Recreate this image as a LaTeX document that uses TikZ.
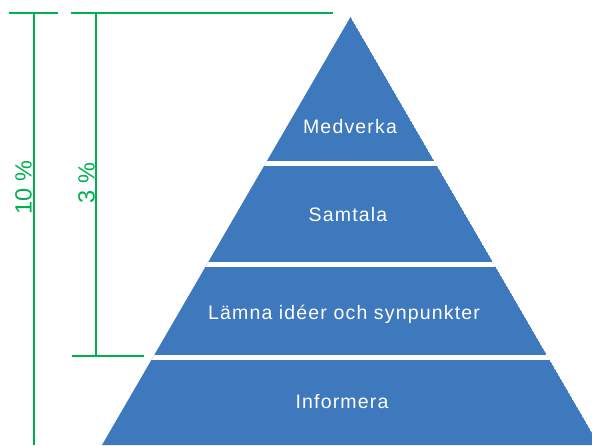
\documentclass[tikz,border=0pt]{standalone}
\usepackage{fontspec}
\setmainfont{Liberation Sans}
\definecolor{pyrblue}{RGB}{62,120,189}
\definecolor{pctgreen}{RGB}{0,176,80}

\begin{document}
\begin{tikzpicture}[x=1pt, y=-1pt, layer/.style={text=white, anchor=base, font=\fontsize{19.5}{20}\selectfont\addfontfeatures{LetterSpace=6}}, meas/.style={draw=pctgreen, line width=2pt}, pct/.style={text=pctgreen, rotate=90, font=\fontsize{23.5}{24}\selectfont}, gap/.style={draw=white, line width=5pt}]
                \useasboundingbox (0,0) rectangle (592,445);
                \clip (0,0) rectangle (592,445);
                % pyramid
                \coordinate (top) at (350.5,17);
                \coordinate (bl) at (102,445);
                \coordinate (br) at (599,445);
                \begin{scope}
                    \clip (top) -- (bl) -- (br) -- cycle;
                    \fill[pyrblue] (top) -- (bl) -- (br) -- cycle;
                    \draw[gap] (0,163.5) -- (592,163.5);
                    \draw[gap] (0,264.5) -- (592,264.5);
                    \draw[gap] (0,357.5) -- (592,357.5);
                \end{scope}
                % nodes
                \node[layer] (medverka) at (350,133) {Medverka};
                \node[layer] (samtala) at (348,221) {Samtala};
                \node[layer] (lamna) at (344,319) {Lämna idéer och synpunkter};
                \node[layer] (informera) at (342,408) {Informera};
                \node[pct] (tio) at (23.5,187.5) {10 \%};
                \node[pct] (tre) at (86.5,183) {3 \%};
                % measures
                \coordinate (tioL) at (9,13);
                \coordinate (tioR) at (58,13);
                \coordinate (tioT) at (34,13);
                \coordinate (tioB) at (34,445);
                \coordinate (treL) at (71,13);
                \coordinate (treR) at (333,13);
                \coordinate (treT) at (96,13);
                \coordinate (treB) at (96,356);
                \coordinate (botL) at (72,356);
                \coordinate (botR) at (144,356);
                \draw[meas] (tioL) -- (tioR);
                \draw[meas] (tioT) -- (tioB);
                \draw[meas] (treL) -- (treR);
                \draw[meas] (treT) -- (treB);
                \draw[meas] (botL) -- (botR);
            \end{tikzpicture}
\end{document}
